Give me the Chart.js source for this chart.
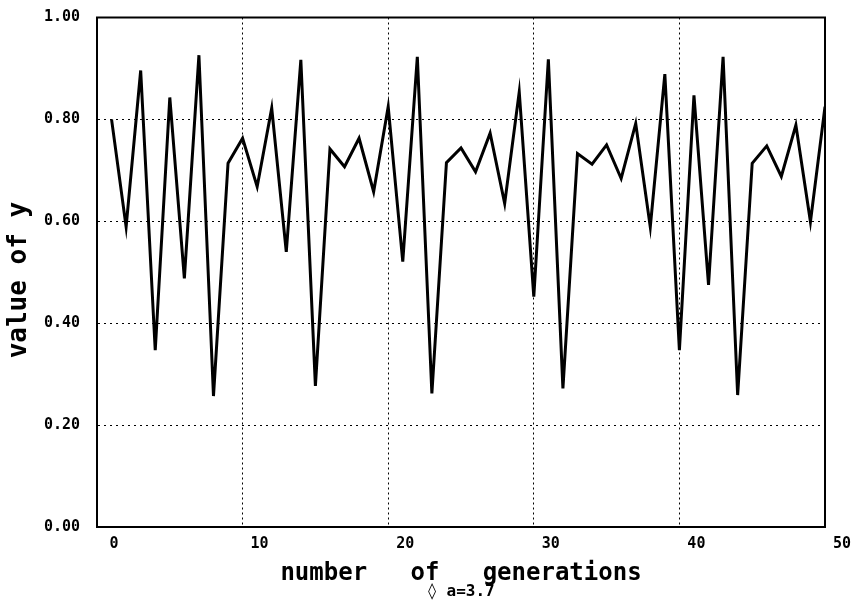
<!DOCTYPE html>
<html>
<head>
<meta charset="utf-8">
<title>value of y</title>
<script src="https://cdn.jsdelivr.net/npm/chart.js@4.4.1/dist/chart.umd.min.js"></script>
<style>
  html, body { margin: 0; padding: 0; background: #fff; }
  #wrap { width: 853px; height: 609px; }
</style>
</head>
<body>
<div id="wrap"><canvas id="genChart" width="853" height="609"></canvas></div>
<script>
const generations = [
  1, 2, 3, 4, 5, 6, 7, 8, 9, 10,
  11, 12, 13, 14, 15, 16, 17, 18, 19, 20,
  21, 22, 23, 24, 25, 26, 27, 28, 29, 30,
  31, 32, 33, 34, 35, 36, 37, 38, 39, 40,
  41, 42, 43, 44, 45, 46, 47, 48, 49, 50,
];
const yValues = [
  0.800, 0.589, 0.896, 0.347, 0.843, 0.488, 0.926, 0.257, 0.714, 0.763,
  0.668, 0.822, 0.540, 0.917, 0.277, 0.742, 0.707, 0.763, 0.658, 0.825,
  0.521, 0.923, 0.262, 0.715, 0.744, 0.697, 0.773, 0.635, 0.854, 0.452,
  0.918, 0.272, 0.733, 0.712, 0.750, 0.684, 0.792, 0.589, 0.889, 0.347,
  0.847, 0.475, 0.923, 0.259, 0.714, 0.748, 0.688, 0.789, 0.599, 0.825,
];
const xTicks = [0, 10, 20, 30, 40, 50];
const yTicks = [0, 0.2, 0.4, 0.6, 0.8, 1.0];

const xTitle = 'number   of   generations';
const yTitle = 'value of y ';
const runLabel = '◊ a=3.7';

const points = generations.map((g, i) => ({ x: g, y: yValues[i] }));

const monoBold = size => ({ family: "'DejaVu Sans Mono', monospace", size, weight: 'bold', lineHeight: 1 });

// solid box round the plot area (the axes only give left and bottom)
const frame = {
  id: 'frame',
  beforeDatasetsDraw(chart) {
    const { ctx, chartArea: a } = chart;
    ctx.save();
    ctx.strokeStyle = '#000';
    ctx.lineWidth = 2;
    ctx.strokeRect(a.left, a.top, a.right - a.left, a.bottom - a.top);
    ctx.restore();
  },
};

const chart = new Chart(document.getElementById('genChart').getContext('2d'), {
  type: 'line',
  data: {
    datasets: [
      {
        label: yTitle.trim(),
        data: points,
        borderColor: '#000',
        borderWidth: 3,
        pointRadius: 0,
        tension: 0,
        fill: false,
      },
    ],
  },
  options: {
    responsive: false,
    animation: false,
    layout: {
      padding: { left: 0, right: 28, top: 17.5, bottom: 0 },
    },
    plugins: {
      legend: { display: false },
      tooltip: { enabled: false },
      subtitle: {
        display: true,
        position: 'bottom',
        fullSize: false,
        text: runLabel,
        color: '#000',
        font: monoBold(16),
        padding: { top: 0, bottom: 9 },
      },
    },
    scales: {
      x: {
        type: 'linear',
        min: 0,
        max: 50,
        afterBuildTicks: scale => {
          scale.ticks = xTicks.map(value => ({ value }));
        },
        afterFit: scale => {
          scale.height = 57;
        },
        ticks: {
          color: '#000',
          font: monoBold(15),
          padding: 10,
          labelOffset: 17,
          maxRotation: 0,
        },
        grid: {
          color: '#000',
          lineWidth: 1,
          drawTicks: false,
        },
        border: {
          display: true,
          color: '#000',
          width: 2,
          dash: [2, 3],
        },
        title: {
          display: true,
          text: xTitle,
          color: '#000',
          font: monoBold(24),
          padding: { top: 0, bottom: -2 },
        },
      },
      y: {
        type: 'linear',
        min: 0,
        max: 1,
        afterBuildTicks: scale => {
          scale.ticks = yTicks.map(value => ({ value }));
        },
        afterFit: scale => {
          scale.width = 97;
        },
        ticks: {
          color: '#000',
          font: monoBold(15),
          padding: 3,
          callback: value => Number(value).toFixed(2),
        },
        grid: {
          color: '#000',
          lineWidth: 1,
          drawTicks: true,
          tickLength: 14,
          tickColor: 'rgba(0,0,0,0)',
        },
        border: {
          display: true,
          color: '#000',
          width: 2,
          dash: [2, 4],
        },
        title: {
          display: true,
          text: yTitle,
          color: '#000',
          font: monoBold(26),
          padding: { top: 6, bottom: 0 },
        },
      },
    },
  },
  plugins: [frame],
});
</script>
</body>
</html>
